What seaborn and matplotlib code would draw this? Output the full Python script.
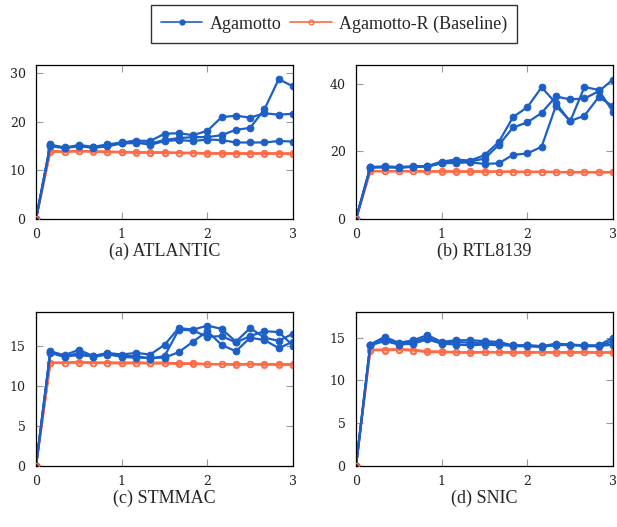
import numpy as np
import pandas as pd
import matplotlib.pyplot as plt
import seaborn as sns

# x positions: 0 .. 3 in steps of 1/6
steps = [0, 1/6, 2/6, 3/6, 4/6, 5/6, 1, 7/6, 8/6, 9/6, 10/6, 11/6, 2,
         13/6, 14/6, 15/6, 16/6, 17/6, 3]

# (a) ATLANTIC
atl_ag_1 = [0, 15.3, 14.6, 15.2, 14.8, 15.3, 15.7, 16.1, 16.0, 17.5, 17.6, 17.2, 18.1, 20.9, 21.2, 20.8, 21.7, 21.4, 21.6]
atl_ag_2 = [0, 15.0, 14.5, 15.0, 14.6, 14.9, 15.5, 15.6, 15.5, 16.2, 16.6, 16.8, 16.8, 17.2, 18.3, 18.7, 22.5, 28.7, 27.2]
atl_ag_3 = [0, 15.1, 14.7, 14.9, 14.7, 15.1, 15.6, 15.8, 15.2, 16.0, 16.2, 16.0, 16.3, 16.2, 15.7, 15.7, 15.7, 16.0, 15.9]
atl_bl_1 = [0, 13.9, 13.9, 14.0, 13.9, 13.8, 13.8, 13.7, 13.7, 13.7, 13.6, 13.6, 13.5, 13.5, 13.5, 13.5, 13.5, 13.5, 13.5]
atl_bl_2 = [0, 13.8, 13.8, 13.9, 13.8, 13.7, 13.7, 13.6, 13.6, 13.6, 13.5, 13.5, 13.4, 13.4, 13.4, 13.4, 13.4, 13.4, 13.3]
atl_bl_3 = [0, 13.9, 13.8, 13.9, 13.9, 13.8, 13.7, 13.7, 13.6, 13.6, 13.6, 13.5, 13.5, 13.5, 13.4, 13.4, 13.5, 13.4, 13.4]

# (b) RTL8139
rtl_ag_1 = [0, 15.4, 15.6, 15.4, 15.6, 15.7, 17.0, 17.6, 17.3, 18.9, 22.8, 30.2, 33.1, 39.0, 34.3, 28.9, 39.1, 38.2, 31.7]
rtl_ag_2 = [0, 15.2, 15.4, 15.3, 15.5, 15.6, 16.6, 17.1, 17.0, 17.9, 21.9, 27.1, 28.6, 31.4, 36.3, 35.4, 35.7, 37.8, 41.3]
rtl_ag_3 = [0, 15.3, 15.3, 15.2, 15.4, 15.5, 16.5, 16.6, 16.8, 16.3, 16.5, 19.0, 19.4, 21.4, 33.5, 29.0, 30.6, 36.1, 33.4]
rtl_bl_1 = [0, 14.2, 14.2, 14.2, 14.2, 14.1, 14.1, 14.1, 14.1, 14.1, 14.0, 14.0, 14.0, 14.0, 13.9, 13.9, 13.9, 13.9, 13.9]
rtl_bl_2 = [0, 14.1, 14.2, 14.1, 14.1, 14.1, 14.0, 14.1, 14.0, 14.0, 14.0, 13.9, 13.9, 13.9, 13.9, 13.8, 13.8, 13.8, 13.8]
rtl_bl_3 = [0, 14.2, 14.1, 14.2, 14.2, 14.1, 14.1, 14.0, 14.1, 14.0, 14.0, 14.0, 13.9, 14.0, 13.9, 13.9, 13.9, 13.9, 13.8]

# (c) STMMAC
stm_ag_1 = [0, 14.3, 13.8, 14.5, 13.7, 14.1, 13.9, 14.1, 13.9, 15.1, 17.2, 17.0, 17.5, 17.1, 15.5, 17.2, 16.0, 15.6, 16.5]
stm_ag_2 = [0, 14.1, 13.6, 14.1, 13.6, 13.9, 13.7, 13.7, 13.4, 13.7, 17.0, 16.9, 16.1, 16.2, 15.4, 16.2, 16.8, 16.7, 15.0]
stm_ag_3 = [0, 14.2, 13.7, 13.8, 13.7, 14.0, 13.6, 13.5, 13.5, 13.5, 14.2, 15.5, 16.8, 15.1, 14.3, 16.0, 15.7, 14.7, 15.5]
stm_bl_1 = [0, 12.9, 12.9, 13.0, 12.9, 12.9, 12.9, 12.9, 12.9, 12.9, 12.8, 12.8, 12.7, 12.7, 12.7, 12.7, 12.7, 12.7, 12.7]
stm_bl_2 = [0, 12.8, 12.9, 12.9, 12.9, 12.8, 12.8, 12.8, 12.8, 12.8, 12.8, 12.7, 12.7, 12.7, 12.7, 12.7, 12.7, 12.6, 12.6]
stm_bl_3 = [0, 12.9, 12.8, 12.9, 12.8, 12.9, 12.8, 12.9, 12.8, 12.8, 12.7, 12.8, 12.7, 12.7, 12.6, 12.7, 12.6, 12.7, 12.6]

# (d) SNIC
snic_ag_1 = [0, 14.2, 15.1, 14.4, 14.7, 15.3, 14.5, 14.7, 14.7, 14.6, 14.5, 14.1, 14.1, 14.0, 14.3, 14.2, 14.1, 14.1, 15.0]
snic_ag_2 = [0, 14.1, 14.6, 14.2, 14.3, 14.8, 14.3, 14.2, 14.1, 14.2, 14.1, 14.1, 14.1, 14.0, 14.1, 14.2, 14.0, 14.0, 14.2]
snic_ag_3 = [0, 14.2, 14.9, 14.3, 14.5, 15.0, 14.4, 14.5, 14.4, 14.4, 14.3, 14.0, 14.0, 13.9, 14.2, 14.1, 14.1, 14.0, 14.6]
snic_bl_1 = [0, 13.6, 13.6, 13.7, 13.6, 13.4, 13.4, 13.3, 13.3, 13.3, 13.3, 13.3, 13.3, 13.3, 13.3, 13.3, 13.3, 13.3, 13.3]
snic_bl_2 = [0, 13.5, 13.6, 13.6, 13.5, 13.4, 13.3, 13.3, 13.3, 13.3, 13.3, 13.3, 13.2, 13.3, 13.3, 13.3, 13.3, 13.2, 13.3]
snic_bl_3 = [0, 13.6, 13.5, 13.6, 13.5, 13.3, 13.3, 13.3, 13.2, 13.3, 13.3, 13.2, 13.3, 13.3, 13.2, 13.2, 13.3, 13.3, 13.2]

panels = [
    ("(a) ATLANTIC", [atl_ag_1, atl_ag_2, atl_ag_3], [atl_bl_1, atl_bl_2, atl_bl_3], 31.6, [0, 10, 20, 30]),
    ("(b) RTL8139", [rtl_ag_1, rtl_ag_2, rtl_ag_3], [rtl_bl_1, rtl_bl_2, rtl_bl_3], 45.6, [0, 20, 40]),
    ("(c) STMMAC", [stm_ag_1, stm_ag_2, stm_ag_3], [stm_bl_1, stm_bl_2, stm_bl_3], 19.2, [0, 5, 10, 15]),
    ("(d) SNIC", [snic_ag_1, snic_ag_2, snic_ag_3], [snic_bl_1, snic_bl_2, snic_bl_3], 18.0, [0, 5, 10, 15]),
]

BLUE = "#1c5fc6"
RED = "#ff6a45"

sns.set_style("ticks")
plt.rcParams['font.family'] = ['Liberation Serif', 'DejaVu Serif']

fig = plt.figure(figsize=(6.17, 5.27), dpi=100)
W, H = 617, 527
boxes = [(36, 65), (356, 65), (36, 312), (356, 312)]
aw, ah = 257, 154

for (title, ag_runs, bl_runs, ymax, yticks), (px, py) in zip(panels, boxes):
    ax = fig.add_axes([px / W, 1 - (py + ah) / H, aw / W, ah / H])
    rows = []
    for r, run in enumerate(bl_runs):
        for x, y in zip(steps, run):
            rows.append(("Agamotto-R (Baseline)", r, x, y))
    for r, run in enumerate(ag_runs):
        for x, y in zip(steps, run):
            rows.append(("Agamotto", r, x, y))
    df = pd.DataFrame(rows, columns=["method", "run", "t", "val"])

    sns.lineplot(data=df[df.method == "Agamotto-R (Baseline)"], x="t", y="val",
                 units="run", estimator=None, color=RED, lw=1.6, marker="o",
                 ms=4.2, mfc="none", mec=RED, mew=1.0, alpha=0.85, ax=ax)
    sns.lineplot(data=df[df.method == "Agamotto"], x="t", y="val",
                 units="run", estimator=None, color=BLUE, lw=1.6, marker="o",
                 ms=4.8, mec=BLUE, ax=ax)
    # orange ring on the origin point, drawn over the blue one
    ax.plot([0], [0], marker="o", ms=4.2, mfc="none", mec=RED, mew=1.0, zorder=5)

    ax.set_xlim(0, 3)
    ax.set_ylim(0, ymax)
    ax.set_xticks([0, 1, 2, 3])
    ax.set_yticks(yticks)
    ax.set_xlabel("")
    ax.set_ylabel("")
    ax.tick_params(direction="in", length=5, width=0.8, color="#9a9a9a",
                   top=True, right=True, labelsize=9, labelcolor="#222222")
    ax.tick_params(axis="y", pad=7.5)
    ax.tick_params(axis="x", pad=6.5)
    for lab in ax.get_xticklabels() + ax.get_yticklabels():
        lab.set_fontfamily("DejaVu Serif")
    for s in ax.spines.values():
        s.set_visible(True)
        s.set_linewidth(0.9)
        s.set_color("black")
    ax.text(0.5, -0.21, title, transform=ax.transAxes,
            ha="center", va="center", fontsize=13)

handles = [
    plt.Line2D([], [], color=BLUE, lw=1.2, marker="o", ms=3.5),
    plt.Line2D([], [], color=RED, lw=1.2, marker="o", ms=3.5, mfc="none", mew=0.9),
]
fig.legend(handles, ["Agamotto", "Agamotto-R (Baseline)"], loc="center",
           bbox_to_anchor=(334 / W, 1 - 24 / H), ncol=2, fontsize=13,
           frameon=True, fancybox=False, edgecolor="black", handlelength=2.3,
           columnspacing=0.5, handletextpad=0.4, borderpad=0.55)

fig.savefig("out.png", dpi=100)
